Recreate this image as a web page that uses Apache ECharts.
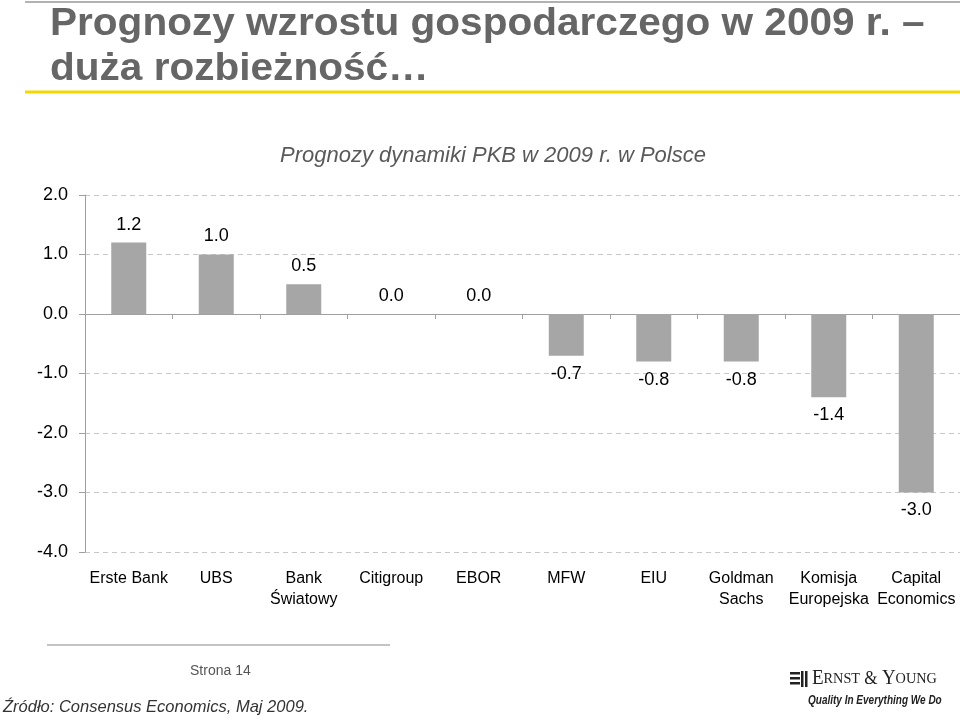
<!DOCTYPE html>
<html><head><meta charset="utf-8">
<script src="https://cdn.jsdelivr.net/npm/echarts@6/dist/echarts.min.js"></script>
<style>html,body{margin:0;padding:0;background:#fff}#c{width:960px;height:721px}</style>
</head><body><div id="c"></div>
<script>
var categories = ['Erste Bank','UBS','Bank\nŚwiatowy','Citigroup','EBOR','MFW','EIU','Goldman\nSachs','Komisja\nEuropejska','Capital\nEconomics'];
var values = [1.2, 1.0, 0.5, 0.0, 0.0, -0.7, -0.8, -0.8, -1.4, -3.0];
var yTicks = [-4, -3, -2, -1, 0, 1, 2];
var titleLines = ['Prognozy wzrostu gospodarczego w 2009 r. –', 'duża rozbieżność…'];
var subtitle = 'Prognozy dynamiki PKB w 2009 r. w Polsce';

var chart = echarts.init(document.getElementById('c'), null, {renderer:'canvas'});
var narrow = "'Liberation Sans Narrow', 'Arial Narrow', 'Liberation Sans', sans-serif";
var sans = "'Liberation Sans', Arial, sans-serif";
var serif = "'Liberation Serif', 'DejaVu Serif', serif";
var barData = values.map(function(v){
  return {value: v, label: {position: v < 0 ? 'bottom' : 'top'}};
});
chart.setOption({
  animation: false,
  backgroundColor: '#fff',
  grid: {left: 85, right: 0, top: 195, bottom: 169, containLabel: false},
  xAxis: [{
    type: 'category', data: categories, position: 'bottom',
    axisLine: {onZero: true, lineStyle: {color: '#a0a0a0', width: 1}},
    axisTick: {show: true, length: 5, inside: false, lineStyle: {color: '#a0a0a0'}},
    axisLabel: {show: false}, splitLine: {show: false}
  }, {
    type: 'category', data: categories, position: 'bottom', offset: 0,
    axisLine: {show: false, onZero: false}, axisTick: {show: false},
    axisLabel: {show: true, interval: 0, margin: 16, color: '#000', fontFamily: narrow, fontSize: 16, lineHeight: 21}
  }],
  yAxis: {
    type: 'value', min: yTicks[0], max: yTicks[yTicks.length-1], interval: 1,
    axisLine: {show: true, lineStyle: {color: '#a0a0a0'}},
    axisTick: {show: true, length: 6, lineStyle: {color: '#a0a0a0'}},
    axisLabel: {margin: 17, color: '#000', fontFamily: sans, fontSize: 18, formatter: function(v){return v.toFixed(1);}},
    splitLine: {show: true, lineStyle: {color: '#c8c8c8', type: [5, 4], width: 1}}
  },
  series: [{
    type: 'bar', xAxisIndex: 0, data: barData, barWidth: 35,
    itemStyle: {color: '#a6a6a6'},
    label: {show: true, distance: 9, color: '#000', fontFamily: sans, fontSize: 18,
      formatter: function(p){return p.value.toFixed(1);}}
  }],
  graphic: [
    {type: 'line', shape: {x1: 25, y1: 2, x2: 960, y2: 2}, style: {stroke: '#999', lineWidth: 1.5}},
    {type: 'text', x: 50, y: 5, scaleX: 1.04, style: {text: titleLines[0], fill: '#666666', font: "bold 39px " + narrow}},
    {type: 'text', x: 50, y: 50, scaleX: 1.04, style: {text: titleLines[1], fill: '#666666', font: "bold 39px " + narrow}},
    {type: 'line', shape: {x1: 25, y1: 92, x2: 960, y2: 92}, style: {stroke: '#f2d800', lineWidth: 3}},
    {type: 'text', x: 280, y: 145, style: {text: subtitle, fill: '#595959', font: "italic 22px " + sans}},
    {type: 'line', shape: {x1: 47, y1: 645, x2: 390, y2: 645}, style: {stroke: '#888', lineWidth: 1}},
    {type: 'text', x: 190, y: 664, style: {text: 'Strona 14', fill: '#555', font: "14px " + sans}},
    {type: 'text', x: 3, y: 699, style: {text: 'Źródło: Consensus Economics, Maj 2009.', fill: '#333', font: "italic 16.5px " + sans}},
    {type: 'rect', shape: {x: 790, y: 672, width: 10, height: 2.5}, style: {fill: '#222'}},
    {type: 'rect', shape: {x: 790, y: 677, width: 10, height: 2.5}, style: {fill: '#222'}},
    {type: 'rect', shape: {x: 790, y: 682, width: 10, height: 2.5}, style: {fill: '#222'}},
    {type: 'rect', shape: {x: 801, y: 671, width: 2.5, height: 16}, style: {fill: '#222'}},
    {type: 'rect', shape: {x: 805, y: 671, width: 2.5, height: 16}, style: {fill: '#222'}},
    {type: 'text', x: 812, y: 669, scaleX: 0.95, style: {text: '{a|E}{b|RNST}{c| & }{a|Y}{b|OUNG}', fill: '#222',
      rich: {a: {font: "20px " + serif, fill:'#222'},
             b: {font: "15px " + serif, fill:'#222'},
             c: {font: "18px " + serif, fill:'#222'}}}},
    {type: 'text', x: 808, y: 694, scaleX: 0.8, style: {text: 'Quality In Everything We Do', fill: '#222', font: "italic bold 12.5px " + sans}}
  ]
});
</script></body></html>
